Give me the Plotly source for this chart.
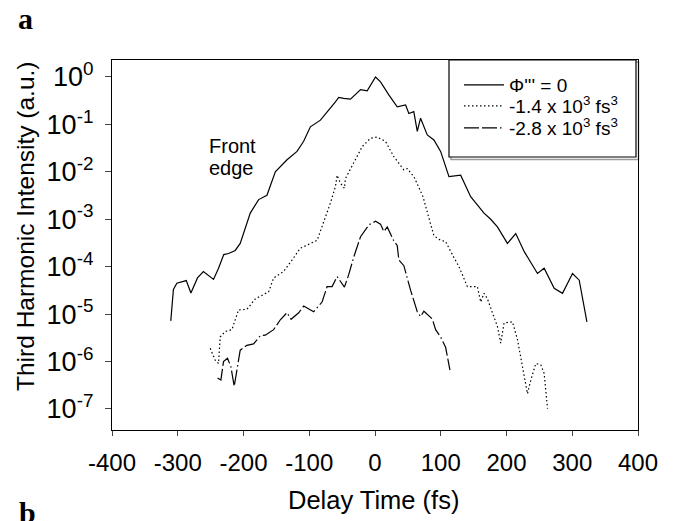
import plotly.graph_objects as go

# ---------------- data ----------------
t_phi0 = [-310.6, -306.6, -301.4, -287, -280, -270, -261, -245.6, -238, -230, -222.8, -212.6,
          -205, -189.7, -177, -164.3, -151.6, -133.8, -118.6, -108.5, -98.3, -83, -60.2, -55.2,
          -47.5, -37.3, -22, -11.9, 0.8, 8.4, 21, 33.8, 46.5, 51.5, 59, 64.3, 69.3, 79.5, 89.6,
          99.8, 112.5, 130.3, 145.5, 165.8, 176, 186.2, 201.4, 214.1, 226.8, 247.1, 257.3,
          272.5, 285.2, 300.4, 310.6, 322.3]
i_phi0 = [7.2e-6, 3.3e-5, 4.5e-5, 5.1e-5, 2.8e-5, 5.8e-5, 7.9e-5, 5.4e-5, 9.3e-5, 1.8e-4, 1.9e-4, 2.2e-4,
          3.1e-4, 1.35e-3, 2.6e-3, 3.2e-3, 1.0e-2, 1.8e-2, 2.7e-2, 4.4e-2, 8.9e-2, 0.123, 0.30, 0.37,
          0.355, 0.34, 0.54, 0.51, 1.0, 0.79, 0.42, 0.235, 0.257, 0.17, 0.186, 0.071, 0.135, 0.060, 0.047,
          0.027, 7.9e-3, 8.5e-3, 3.0e-3, 1.35e-3, 1.0e-3, 6.9e-4, 3.1e-4, 5.0e-4, 2.1e-4, 7.2e-5, 9.3e-5,
          3.5e-5, 2.75e-5, 7.2e-5, 5.2e-5, 6.9e-6]

t_14 = [-250.6, -243, -238, -235.4, -227.8, -217.6, -207.5, -194.8, -182, -161.8, -154.2, -139,
        -126.2, -116, -113.5, -88, -80.5, -67.8, -60.2, -57.6, -52.6, -46.5, -45, -32.3, -19.5,
        -6.9, 3.3, 16, 28.6, 43.9, 49, 59.2, 73, 84.6, 89.6, 99.8, 107.4, 115, 127.7, 140.5,
        155.7, 160.8, 165.8, 171, 186.2, 191.2, 196.3, 209, 216.7, 224.3, 231.9, 237, 244.6,
        252.2, 257.3, 262.4]
i_14 = [1.9e-6, 1.07e-6, 9.1e-7, 3.3e-6, 4.3e-6, 4.7e-6, 1.23e-5, 1.26e-5, 2.1e-5, 2.95e-5, 5.8e-5, 7.9e-5,
        1.38e-4, 2.1e-4, 2.45e-4, 3.6e-4, 6.9e-4, 2.2e-3, 4.9e-3, 8.5e-3, 5.75e-3, 4.5e-3, 7.2e-3, 0.0151, 0.034,
        0.051, 0.054, 0.044, 0.021, 0.011, 0.0117, 7.9e-3, 3.0e-3, 7.9e-4, 4.5e-4, 3.6e-4, 3.4e-4, 2.1e-4, 1.0e-4, 3.8e-5,
        3.8e-5, 1.8e-5, 2.75e-5, 2.1e-5, 5.5e-6, 2.45e-6, 6.5e-6, 6.9e-6, 2.9e-6, 7.8e-7, 2.1e-7, 4.1e-7, 9.1e-7,
        8.5e-7, 5.6e-7, 1.02e-7]

t_28 = [-239.5, -234.4, -230.4, -224.3, -219.2, -214.1, -205, -194.8, -184.7, -174.5, -166.9, -154.2,
        -144, -133.8, -127.7, -116, -108.5, -98.3, -93.3, -80.5, -72.9, -65.3, -57.6, -46.5, -40,
        -32.3, -22, -9.4, 0.8, 8.4, 13.4, 18.6, 28.6, 33.8, 36.3, 43.9, 54.1, 64.3, 69.3, 74.4,
        87.2, 92.2, 99.8, 107.4, 114]
i_28 = [4.5e-7, 4.1e-7, 1.0e-6, 1.17e-6, 7.8e-7, 3.0e-7, 1.74e-6, 2.2e-6, 2.35e-6, 3.5e-6, 3.6e-6, 4.7e-6,
        7.6e-6, 1.07e-5, 7.8e-6, 1.07e-5, 1.48e-5, 1.23e-5, 1.12e-5, 1.8e-5, 3.8e-5, 3.8e-5, 6.2e-5, 3.7e-5, 6.8e-5,
        1.6e-4, 4.3e-4, 7.6e-4, 9.1e-4, 7.9e-4, 5.5e-4, 6.9e-4, 3.5e-4, 2.8e-4, 1.38e-4, 1.05e-4, 3.2e-5, 1.12e-5, 8.9e-6, 1.15e-5,
        7.9e-6, 4.7e-6, 3.3e-6, 2.0e-6, 6.6e-7]

series_names = ["Φ''' = 0", "-1.4 x 10<sup>3</sup> fs<sup>3</sup>", "-2.8 x 10<sup>3</sup> fs<sup>3</sup>"]

x_tickvals = [-400, -300, -200, -100, 0, 100, 200, 300, 400]
x_ticktext = ["-400", "-300", "-200", "-100", "0", "100", "200", "300", "400"]
y_tickvals = [1, 1e-1, 1e-2, 1e-3, 1e-4, 1e-5, 1e-6, 1e-7]
y_ticktext = ["10<sup>0</sup>", "10<sup>-1</sup>", "10<sup>-2</sup>", "10<sup>-3</sup>",
              "10<sup>-4</sup>", "10<sup>-5</sup>", "10<sup>-6</sup>", "10<sup>-7</sup>"]

FONT = "Liberation Sans, Arial, sans-serif"

fig = go.Figure()
fig.add_trace(go.Scatter(x=t_phi0, y=i_phi0, mode="lines", name=series_names[0],
                         line=dict(color="black", width=1.2), legend="legend", showlegend=True))
fig.add_trace(go.Scatter(x=t_14, y=i_14, mode="lines", name=series_names[1],
                         line=dict(color="black", width=1.2, dash="1.5px,2.5px"), legend="legend2",
                         showlegend=True))
fig.add_trace(go.Scatter(x=t_28, y=i_28, mode="lines", name=series_names[2],
                         line=dict(color="black", width=1.2, dash="15px,3px,15px,3px,1.5px,3px"),
                         legend="legend3", showlegend=True))

# plot area in px: x 112..638, y 60..430
L, R, T, B = 112, 638, 60, 430
W, H = R - L, B - T
def px(x):
    return (x - L) / W
def py(y):
    return (B - y) / H

leg_common = dict(bgcolor="rgba(0,0,0,0)", borderwidth=0, xanchor="left", yanchor="middle",
                  font=dict(family=FONT, size=19, color="black"), itemwidth=40,
                  tracegroupgap=0, visible=True)

fig.update_layout(
    width=675, height=521,
    showlegend=True,
    margin=dict(l=L, r=675 - R, t=T, b=521 - B),
    paper_bgcolor="white", plot_bgcolor="white",
    font=dict(family=FONT, color="black"),
    legend=dict(x=px(459), y=py(85), **leg_common),
    legend2=dict(x=px(459), y=py(106), **leg_common),
    legend3=dict(x=px(459), y=py(128), **leg_common),
    xaxis=dict(range=[-400, 400], tickvals=x_tickvals, ticktext=x_ticktext,
               ticks="outside", ticklen=5, tickwidth=1.3, tickcolor="#444",
               showline=True, linecolor="black", linewidth=1.3, mirror=True,
               showgrid=False, zeroline=False, ticklabelstandoff=6,
               tickfont=dict(family=FONT, size=24, color="black")),
    yaxis=dict(type="log", range=[-7.443, 0.358], tickvals=y_tickvals, ticktext=y_ticktext,
               ticks="outside", ticklen=6, tickwidth=1.3, tickcolor="#444",
               showline=True, linecolor="black", linewidth=1.3, mirror=True,
               showgrid=False, zeroline=False, ticklabelstandoff=6,
               tickfont=dict(family=FONT, size=27, color="black")),
    shapes=[
        dict(type="rect", xref="paper", yref="paper", x0=px(451), x1=px(638.5), y0=py(159.5), y1=py(62),
             line=dict(color="#9a9a9a", width=1.5), fillcolor="white", layer="below"),
        dict(type="rect", xref="paper", yref="paper", x0=px(449), x1=px(636), y0=py(157), y1=py(60),
             line=dict(color="black", width=1.2), fillcolor="white", layer="below"),
    ],
    annotations=[
        dict(text="Front", xref="paper", yref="paper", x=px(207), y=py(146),
             xanchor="left", yanchor="middle", showarrow=False,
             font=dict(family=FONT, size=20, color="black")),
        dict(text="edge", xref="paper", yref="paper", x=px(207), y=py(168),
             xanchor="left", yanchor="middle", showarrow=False,
             font=dict(family=FONT, size=20, color="black")),
        dict(text="Third Harmonic Intensity (a.u.)", xref="paper", yref="paper",
             x=px(25), y=py(226), xanchor="center", yanchor="middle", textangle=-90,
             showarrow=False, font=dict(family=FONT, size=24.5, color="black")),
        dict(text="Delay Time (fs)", xref="paper", yref="paper",
             x=px(373), y=py(500), xanchor="center", yanchor="middle",
             showarrow=False, font=dict(family=FONT, size=25.5, color="black")),
        dict(text="<b>a</b>", xref="paper", yref="paper", x=px(25), y=py(18),
             xanchor="center", yanchor="middle", showarrow=False,
             font=dict(family="Liberation Serif, Times New Roman, serif", size=30, color="black")),
        dict(text="<b>b</b>", xref="paper", yref="paper", x=px(27), y=py(512),
             xanchor="center", yanchor="middle", showarrow=False,
             font=dict(family="Liberation Serif, Times New Roman, serif", size=30, color="black")),
    ],
)

fig.write_html("out.html", config={"displayModeBar": False},
               post_script="document.body.style.margin='0';document.body.style.overflow='hidden';")
